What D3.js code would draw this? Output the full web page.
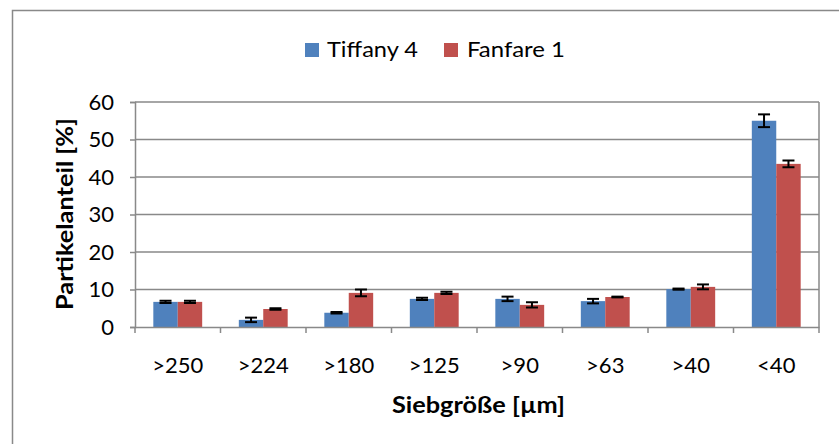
<!DOCTYPE html>
<html><head><meta charset="utf-8">
<script src="https://cdn.jsdelivr.net/npm/d3@7"></script>
<style>body{margin:0;background:#fff}svg{display:block}text{font-family:Lato,"Open Sans",sans-serif}</style>
</head><body><svg id="c" width="839" height="444"></svg>
<script>
const categories = [">250", ">224", ">180", ">125", ">90", ">63", ">40", "<40"];
const seriesNames = ["Tiffany 4", "Fanfare 1"];
const tiffany = [6.7, 1.9, 3.8, 7.5, 7.5, 6.9, 10.1, 55.0];
const tiffanyErr = [0.3, 0.6, 0.2, 0.3, 0.6, 0.6, 0.15, 1.7];
const fanfare = [6.7, 4.8, 9.1, 9.1, 5.9, 8.0, 10.7, 43.5];
const fanfareErr = [0.3, 0.2, 0.9, 0.3, 0.7, 0.1, 0.65, 0.9];
const yTicks = [0, 10, 20, 30, 40, 50, 60];
const colors = ["#4F81BD", "#C0504D"];

const svg = d3.select("#c");
const L = 135, R = 819, T = 102, B = 327;
const grey = "#898989";
const FS = 22;

// outer chart border
svg.append("rect").attr("x", 12.5).attr("y", 10.5).attr("width", 840).attr("height", 450)
  .attr("fill", "none").attr("stroke", grey).attr("stroke-width", 1.5);

const x = d3.scaleBand().domain(categories).range([L, R]);
const xs = d3.scaleBand().domain([0, 1]).range([0, x.bandwidth()]).paddingInner(0).paddingOuter(0.75);
const y = d3.scaleLinear().domain([0, 60]).range([B, T]);

// gridlines
svg.append("g").selectAll("line").data(yTicks.filter(d => d > 0)).join("line")
  .attr("x1", L).attr("x2", R).attr("y1", d => y(d)).attr("y2", d => y(d))
  .attr("stroke", grey).attr("stroke-width", 1.5);
// right border
svg.append("line").attr("x1", R).attr("x2", R).attr("y1", T).attr("y2", B)
  .attr("stroke", grey).attr("stroke-width", 1.5);

const data = [tiffany, fanfare];
const errs = [tiffanyErr, fanfareErr];
data.forEach((vals, s) => {
  const g = svg.append("g");
  g.selectAll("rect").data(vals).join("rect")
    .attr("x", (d, i) => x(categories[i]) + xs(s))
    .attr("width", xs.bandwidth())
    .attr("y", d => y(d)).attr("height", d => B - y(d))
    .attr("fill", colors[s]);
});
data.forEach((vals, s) => {
  const g = svg.append("g").attr("stroke", "#000").attr("stroke-width", 2);
  vals.forEach((v, i) => {
    const cx = x(categories[i]) + xs(s) + xs.bandwidth() / 2;
    const e = errs[s][i];
    const y1 = y(v + e), y2 = y(v - e);
    g.append("line").attr("x1", cx).attr("x2", cx).attr("y1", y1).attr("y2", y2);
    g.append("line").attr("x1", cx - 6).attr("x2", cx + 6).attr("y1", y1).attr("y2", y1);
    g.append("line").attr("x1", cx - 6).attr("x2", cx + 6).attr("y1", y2).attr("y2", y2);
  });
});

// y axis
const yAxis = svg.append("g").attr("transform", `translate(${L},0)`)
  .call(d3.axisLeft(y).tickValues(yTicks).tickSize(5).tickPadding(16).tickFormat(d3.format("d")));
yAxis.select(".domain").attr("stroke", grey).attr("stroke-width", 1.5);
yAxis.selectAll(".tick line").attr("stroke", grey).attr("stroke-width", 1.5);
yAxis.selectAll(".tick text").attr("font-size", FS).attr("fill", "#000").attr("font-family", "Lato,sans-serif");

// x axis
const xAxis = svg.append("g").attr("transform", `translate(0,${B})`)
  .call(d3.axisBottom(x).tickSize(0).tickPadding(30));
xAxis.select(".domain").attr("stroke", grey).attr("stroke-width", 1.5);
xAxis.selectAll(".tick text").attr("font-size", FS).attr("fill", "#000").attr("font-family", "Lato,sans-serif")
  .attr("dy", null).attr("y", 46);
const bounds = categories.map(c => x(c)).concat([R]);
svg.append("g").selectAll("line").data(bounds).join("line")
  .attr("x1", d => d).attr("x2", d => d).attr("y1", B).attr("y2", B + 6)
  .attr("stroke", grey).attr("stroke-width", 1.5);

// axis titles
svg.append("text").attr("x", 392).attr("y", 413)
  .attr("font-size", FS).attr("font-weight", "bold")
  .attr("textLength", 173).attr("lengthAdjust", "spacingAndGlyphs").text("Siebgröße [µm]");
svg.append("text").attr("transform", "translate(73,310) rotate(-90)")
  .attr("font-size", FS).attr("font-weight", "bold")
  .attr("textLength", 192).attr("lengthAdjust", "spacingAndGlyphs").text("Partikelanteil [%]");

// legend
const leg = svg.append("g");
const legX = [305, 444];
const legTextX = [327, 467];
const legLen = [91, 98];
seriesNames.forEach((n, i) => {
  leg.append("rect").attr("x", legX[i]).attr("y", 43).attr("width", 14).attr("height", 14).attr("fill", colors[i]);
  leg.append("text").attr("x", legTextX[i]).attr("y", 57).attr("font-size", FS)
    .attr("textLength", legLen[i]).attr("lengthAdjust", "spacingAndGlyphs").text(n);
});
</script></body></html>
